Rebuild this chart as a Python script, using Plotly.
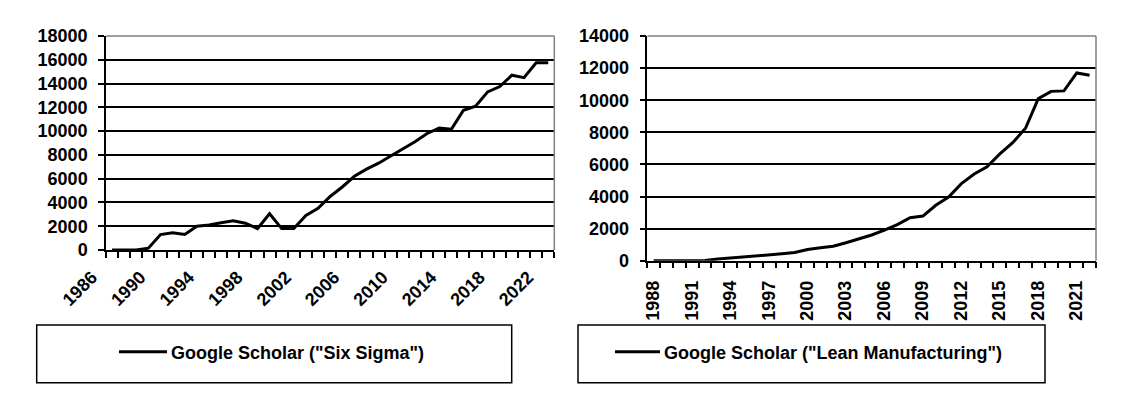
import plotly.graph_objects as go

# ---- data ----
six_years = list(range(1986, 2023))
six_sigma = [0, 0, 0, 150, 1300, 1450, 1300, 2000, 2100, 2300,
             2450, 2250, 1800, 3050, 1800, 1800, 2900, 3500, 4500, 5300,
             6200, 6800, 7300, 7900, 8500, 9100, 9800, 10250, 10150, 11750,
             12100, 13300, 13750, 14700, 14500, 15750, 15750]

lean_years = list(range(1988, 2023))
lean_mfg = [0, 0, 0, 0, 20, 100, 160, 250, 290, 380,
            430, 510, 700, 800, 900, 1120, 1350, 1600, 1900, 2250,
            2680, 2780, 3450, 3970, 4800, 5400, 5850, 6650, 7350, 8250,
            10100, 10550, 10580, 11700, 11550]

six_ticks = six_years[::4]
lean_ticks = lean_years[::3]
six_name = 'Google Scholar ("Six Sigma")'
lean_name = 'Google Scholar ("Lean Manufacturing")'

W, H = 1128, 412
OFF = 8  # page body margin
FONT = "Liberation Sans, Arial, sans-serif"

def px(x):
    return (x - OFF) / W

def py(y):
    return (H - (y - OFF)) / H

fig = go.Figure()
fig.add_trace(go.Scatter(x=six_years, y=six_sigma, mode="lines", name=six_name,
                         line=dict(color="black", width=3), xaxis="x", yaxis="y",
                         showlegend=False))
fig.add_trace(go.Scatter(x=lean_years, y=lean_mfg, mode="lines", name=lean_name,
                         line=dict(color="black", width=3), xaxis="x2", yaxis="y2",
                         showlegend=False))

tickfont = dict(family=FONT, size=18, color="black", weight="bold")

def xaxis_cfg(domain, years, ticks, angle, anchor, shift, standoff):
    # tick marks sit on category boundaries; labels shifted to category centres
    bounds = [y - 0.5 for y in years] + [years[-1] + 0.5]
    texts = [str(int(b + 0.5)) if int(b + 0.5) in ticks else "" for b in bounds]
    return dict(
        domain=domain, anchor=anchor, type="linear", automargin=False,
        range=[years[0] - 0.5, years[-1] + 0.5],
        tickmode="array", tickvals=bounds, ticktext=texts,
        tickangle=angle, tickfont=tickfont,
        ticks="outside", ticklen=6, tickwidth=1.5, tickcolor="black",
        ticklabelshift=shift, ticklabelstandoff=standoff,
        showgrid=False, zeroline=False,
        showline=True, linecolor="black", linewidth=1.5,
        fixedrange=True,
    )

def yaxis_cfg(domain, top, anchor):
    return dict(
        domain=domain, anchor=anchor, range=[0, top], dtick=2000, tick0=0,
        tickmode="linear", tickformat="d", automargin=False,
        tickfont=tickfont, ticks="outside", ticklen=6, tickwidth=1.5, tickcolor="black",
        showgrid=True, gridcolor="black", gridwidth=1.5,
        zeroline=False, showline=True, linecolor="black", linewidth=1.5,
        ticklabelstandoff=7, fixedrange=True,
    )

cat_w_left = (554.3 - 106) / len(six_years)
cat_w_right = (1096 - 647.3) / len(lean_years)

fig.update_layout(
    template="none",
    width=W, height=H,
    margin=dict(l=0, r=0, t=0, b=0, autoexpand=False),
    paper_bgcolor="white", plot_bgcolor="white",
    showlegend=False,
    xaxis=xaxis_cfg([px(106), px(554.3)], six_years, six_ticks, -45, "y",
                    round(cat_w_left / 2) - 20, 2),
    yaxis=yaxis_cfg([py(250), py(36)], 18000, "x"),
    xaxis2=xaxis_cfg([px(647.3), px(1096)], lean_years, lean_ticks, -90, "y2",
                     round(cat_w_right / 2), 5),
    yaxis2=yaxis_cfg([py(260.7), py(36)], 14000, "x2"),
)

shapes = []
# gray plot-area borders (top and right)
for xr, yr in (("x domain", "y domain"), ("x2 domain", "y2 domain")):
    shapes.append(dict(type="line", xref=xr, yref=yr, x0=0, x1=1, y0=1, y1=1,
                       line=dict(color="#808080", width=1.5), layer="above"))
    shapes.append(dict(type="line", xref=xr, yref=yr, x0=1, x1=1, y0=0, y1=1,
                       line=dict(color="#808080", width=1.5), layer="above"))

# legend boxes
legends = [
    (36.7, 511.7, 119, 167, six_name),
    (578, 1045, 615, 660, lean_name),
]
annotations = []
for bx0, bx1, lx0, lx1, name in legends:
    shapes.append(dict(type="rect", xref="paper", yref="paper",
                       x0=px(bx0), x1=px(bx1), y0=py(382.7), y1=py(325),
                       line=dict(color="black", width=1.5), fillcolor="white"))
    shapes.append(dict(type="line", xref="paper", yref="paper",
                       x0=px(lx0), x1=px(lx1), y0=py(351.7), y1=py(351.7),
                       line=dict(color="black", width=3)))
    annotations.append(dict(xref="paper", yref="paper", x=px(lx1 + 2), y=py(353),
                            xanchor="left", yanchor="middle", showarrow=False,
                            text=name, font=dict(family=FONT, size=18, color="black",
                                                 weight="bold")))
fig.update_layout(shapes=shapes, annotations=annotations)

fig.write_html("out.html")
